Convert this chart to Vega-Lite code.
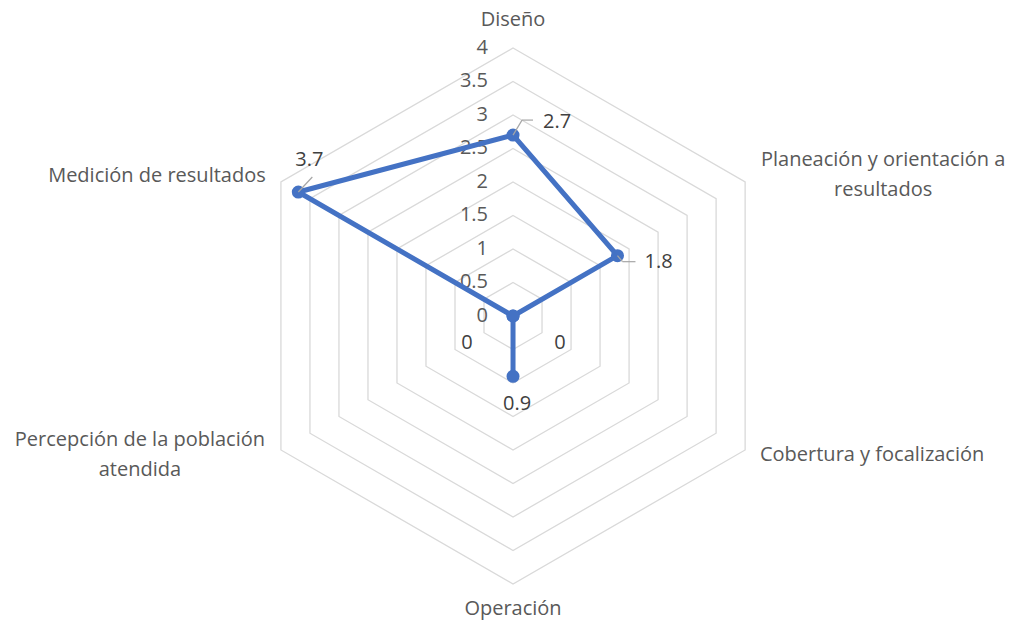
{
  "$schema": "https://vega.github.io/schema/vega-lite/v6.json",
  "width": 1016,
  "height": 623,
  "autosize": "none",
  "padding": 0,
  "background": "white",
  "config": {"view": {"stroke": null}, "font": "Open Sans"},
  "datasets": {
    "scores": [
      {"k": 0, "category": "Diseño", "label": "Diseño", "value": 2.7},
      {"k": 1, "category": "Planeación y orientación a resultados", "label": "Planeación y orientación a\nresultados", "value": 1.8},
      {"k": 2, "category": "Cobertura y focalización", "label": "Cobertura y focalización", "value": 0},
      {"k": 3, "category": "Operación", "label": "Operación", "value": 0.9},
      {"k": 4, "category": "Percepción de la población atendida", "label": "Percepción de la población\natendida", "value": 0},
      {"k": 5, "category": "Medición de resultados", "label": "Medición de resultados", "value": 3.7}
    ],
    "rings": [
      {"level": 0.5, "k": [0, 1, 2, 3, 4, 5]},
      {"level": 1, "k": [0, 1, 2, 3, 4, 5]},
      {"level": 1.5, "k": [0, 1, 2, 3, 4, 5]},
      {"level": 2, "k": [0, 1, 2, 3, 4, 5]},
      {"level": 2.5, "k": [0, 1, 2, 3, 4, 5]},
      {"level": 3, "k": [0, 1, 2, 3, 4, 5]},
      {"level": 3.5, "k": [0, 1, 2, 3, 4, 5]},
      {"level": 4, "k": [0, 1, 2, 3, 4, 5]}
    ],
    "ticks": [
      {"tick": 0}, {"tick": 0.5}, {"tick": 1}, {"tick": 1.5}, {"tick": 2},
      {"tick": 2.5}, {"tick": 3}, {"tick": 3.5}, {"tick": 4}
    ]
  },
  "layer": [
    {
      "data": {"name": "rings"},
      "transform": [
        {"flatten": ["k"]},
        {"calculate": "datum.level * sin(datum.k * PI / 3)", "as": "x"},
        {"calculate": "datum.level * cos(datum.k * PI / 3)", "as": "y"}
      ],
      "mark": {"type": "line", "interpolate": "linear-closed", "stroke": "#D9D9D9", "strokeWidth": 1.3},
      "encoding": {
        "x": {"field": "x", "type": "quantitative", "scale": {"domain": [-7.657, 7.507], "nice": false, "zero": false}, "axis": null},
        "y": {"field": "y", "type": "quantitative", "scale": {"domain": [-4.582, 4.716], "nice": false, "zero": false}, "axis": null},
        "detail": {"field": "level", "type": "nominal"},
        "order": {"field": "k", "type": "quantitative"}
      }
    },
    {
      "data": {"name": "ticks"},
      "mark": {"type": "text", "align": "right", "baseline": "middle", "dx": -25, "fontSize": 20, "color": "#595959"},
      "encoding": {
        "x": {"datum": 0, "type": "quantitative", "scale": {"domain": [-7.657, 7.507], "nice": false, "zero": false}, "axis": null},
        "y": {"field": "tick", "type": "quantitative", "scale": {"domain": [-4.582, 4.716], "nice": false, "zero": false}, "axis": null},
        "text": {"field": "tick", "type": "nominal"}
      }
    },
    {
      "data": {"name": "scores"},
      "transform": [
        {"calculate": "datum.value * sin(datum.k * PI / 3)", "as": "x"},
        {"calculate": "datum.value * cos(datum.k * PI / 3)", "as": "y"},
        {"calculate": "4 * sin(datum.k * PI / 3)", "as": "ex"},
        {"calculate": "4 * cos(datum.k * PI / 3)", "as": "ey"}
      ],
      "encoding": {
        "x": {"field": "x", "type": "quantitative", "scale": {"domain": [-7.657, 7.507], "nice": false, "zero": false}, "axis": null},
        "y": {"field": "y", "type": "quantitative", "scale": {"domain": [-4.582, 4.716], "nice": false, "zero": false}, "axis": null}
      },
      "layer": [
        {
          "mark": {"type": "line", "interpolate": "linear-closed", "stroke": "#4472C4", "strokeWidth": 5, "strokeJoin": "round"},
          "encoding": {"order": {"field": "k", "type": "quantitative"}}
        },
        {
          "mark": {"type": "point", "filled": true, "size": 170, "color": "#4472C4", "opacity": 1}
        },
        {
          "transform": [{"filter": "datum.k == 0"}],
          "mark": {"type": "rule", "stroke": "#A6A6A6", "strokeWidth": 1.2, "x2Offset": 9, "y2Offset": -15},
          "encoding": {"x2": {"field": "x"}, "y2": {"field": "y"}}
        },
        {
          "transform": [{"filter": "datum.k == 0"}],
          "mark": {"type": "rule", "stroke": "#A6A6A6", "strokeWidth": 1.2, "xOffset": 9, "yOffset": -15, "x2Offset": 20, "y2Offset": -15},
          "encoding": {"x2": {"field": "x"}, "y2": {"field": "y"}}
        },
        {
          "transform": [{"filter": "datum.k == 1"}],
          "mark": {"type": "rule", "stroke": "#A6A6A6", "strokeWidth": 1.2, "x2Offset": 5, "y2Offset": 6},
          "encoding": {"x2": {"field": "x"}, "y2": {"field": "y"}}
        },
        {
          "transform": [{"filter": "datum.k == 1"}],
          "mark": {"type": "rule", "stroke": "#A6A6A6", "strokeWidth": 1.2, "xOffset": 5, "yOffset": 6, "x2Offset": 18, "y2Offset": 6},
          "encoding": {"x2": {"field": "x"}, "y2": {"field": "y"}}
        },
        {
          "transform": [{"filter": "datum.k == 5"}],
          "mark": {"type": "rule", "stroke": "#A6A6A6", "strokeWidth": 1.2, "x2Offset": 14, "y2Offset": -15},
          "encoding": {"x2": {"field": "x"}, "y2": {"field": "y"}}
        },
        {
          "transform": [{"filter": "datum.k == 0"}],
          "mark": {"type": "text", "align": "left", "baseline": "middle", "dx": 30, "dy": -13, "fontSize": 20, "color": "#404040"},
          "encoding": {"text": {"field": "value", "type": "nominal"}}
        },
        {
          "transform": [{"filter": "datum.k == 1"}],
          "mark": {"type": "text", "align": "left", "baseline": "middle", "dx": 27, "dy": 6, "fontSize": 20, "color": "#404040"},
          "encoding": {"text": {"field": "value", "type": "nominal"}}
        },
        {
          "transform": [{"filter": "datum.k == 2"}],
          "mark": {"type": "text", "align": "center", "baseline": "middle", "dx": 47, "dy": 27, "fontSize": 20, "color": "#404040"},
          "encoding": {"text": {"field": "value", "type": "nominal"}}
        },
        {
          "transform": [{"filter": "datum.k == 3"}],
          "mark": {"type": "text", "align": "center", "baseline": "middle", "dx": 4, "dy": 28, "fontSize": 20, "color": "#404040"},
          "encoding": {"text": {"field": "value", "type": "nominal"}}
        },
        {
          "transform": [{"filter": "datum.k == 4"}],
          "mark": {"type": "text", "align": "center", "baseline": "middle", "dx": -46, "dy": 27, "fontSize": 20, "color": "#404040"},
          "encoding": {"text": {"field": "value", "type": "nominal"}}
        },
        {
          "transform": [{"filter": "datum.k == 5"}],
          "mark": {"type": "text", "align": "center", "baseline": "middle", "dx": 11, "dy": -32, "fontSize": 20, "color": "#404040"},
          "encoding": {"text": {"field": "value", "type": "nominal"}}
        },
        {
          "transform": [{"filter": "datum.k == 0"}],
          "mark": {"type": "text", "align": "center", "baseline": "middle", "dy": -28, "fontSize": 20, "color": "#595959", "lineBreak": "\n", "lineHeight": 30},
          "encoding": {"x": {"field": "ex", "type": "quantitative"}, "y": {"field": "ey", "type": "quantitative"}, "text": {"field": "label"}}
        },
        {
          "transform": [{"filter": "datum.k == 1"}],
          "mark": {"type": "text", "align": "center", "baseline": "middle", "dx": 138, "dy": -22, "fontSize": 20, "color": "#595959", "lineBreak": "\n", "lineHeight": 30},
          "encoding": {"x": {"field": "ex", "type": "quantitative"}, "y": {"field": "ey", "type": "quantitative"}, "text": {"field": "label"}}
        },
        {
          "transform": [{"filter": "datum.k == 2"}],
          "mark": {"type": "text", "align": "center", "baseline": "middle", "dx": 127, "dy": 5, "fontSize": 20, "color": "#595959", "lineBreak": "\n", "lineHeight": 30},
          "encoding": {"x": {"field": "ex", "type": "quantitative"}, "y": {"field": "ey", "type": "quantitative"}, "text": {"field": "label"}}
        },
        {
          "transform": [{"filter": "datum.k == 3"}],
          "mark": {"type": "text", "align": "center", "baseline": "middle", "dy": 25, "fontSize": 20, "color": "#595959", "lineBreak": "\n", "lineHeight": 30},
          "encoding": {"x": {"field": "ex", "type": "quantitative"}, "y": {"field": "ey", "type": "quantitative"}, "text": {"field": "label"}}
        },
        {
          "transform": [{"filter": "datum.k == 4"}],
          "mark": {"type": "text", "align": "center", "baseline": "middle", "dx": -141, "dy": -10, "fontSize": 20, "color": "#595959", "lineBreak": "\n", "lineHeight": 30},
          "encoding": {"x": {"field": "ex", "type": "quantitative"}, "y": {"field": "ey", "type": "quantitative"}, "text": {"field": "label"}}
        },
        {
          "transform": [{"filter": "datum.k == 5"}],
          "mark": {"type": "text", "align": "center", "baseline": "middle", "dx": -124, "dy": -6, "fontSize": 20, "color": "#595959", "lineBreak": "\n", "lineHeight": 30},
          "encoding": {"x": {"field": "ex", "type": "quantitative"}, "y": {"field": "ey", "type": "quantitative"}, "text": {"field": "label"}}
        }
      ]
    }
  ]
}
